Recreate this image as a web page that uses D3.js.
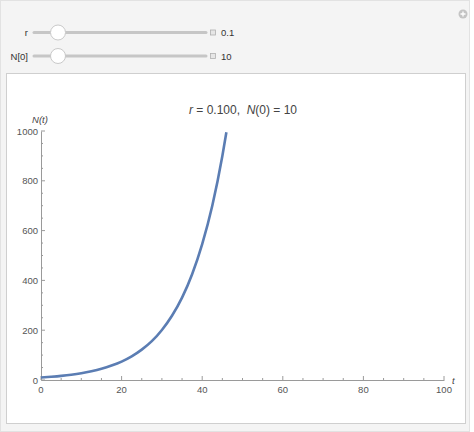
<!DOCTYPE html>
<html>
<head>
<meta charset="utf-8">
<script src="https://cdn.jsdelivr.net/npm/d3@7"></script>
<style>
  body { margin: 0; background: #fff; }
  text { font-family: "Liberation Sans", Arial, sans-serif; white-space: pre; }
</style>
</head>
<body>
<script>
// values
var tValues = [0, 2.5, 5, 7.5, 10, 12.5, 15, 17.5, 20, 22.5, 25, 27.5, 30, 32.5, 35, 37.5, 40, 42.5, 45, 46];
var nValues = [10, 13, 16.5, 21, 27, 35, 45, 58, 74, 95, 122, 156, 201, 258, 331, 425, 546, 700, 900, 995];
var xTicks = [0, 20, 40, 60, 80, 100];
var yTicks = [0, 200, 400, 600, 800, 1000];
var sliders = [{label: "r", value: "0.1"}, {label: "N[0]", value: "10"}];

var W = 474, H = 432;
var svg = d3.select("body").append("svg")
    .attr("width", W)
    .attr("height", H);

// outer panel
svg.append("rect")
    .attr("x", 0.5).attr("y", 0.5)
    .attr("width", 469).attr("height", 431)
    .attr("fill", "#f4f4f4")
    .attr("stroke", "#e2e2e2");

// plus icon top right
svg.append("circle").attr("cx", 463).attr("cy", 14).attr("r", 4.5).attr("fill", "#c4c4c4");
svg.append("path").attr("d", "M460.5,14H465.5M463,11.5V16.5").attr("stroke", "#fff").attr("stroke-width", 1.3);

// sliders
sliders.forEach(function(s, i) {
  var cy = 32.5 + i * 23.5;
  svg.append("text")
      .attr("x", 28).attr("y", cy + 3.5)
      .attr("text-anchor", "end")
      .attr("font-size", 9.5)
      .attr("fill", "#333")
      .text(s.label);
  svg.append("line")
      .attr("x1", 34).attr("x2", 206)
      .attr("y1", cy).attr("y2", cy)
      .attr("stroke", "#c6c6c6").attr("stroke-width", 3)
      .attr("stroke-linecap", "round");
  svg.append("circle")
      .attr("cx", 58).attr("cy", cy).attr("r", 7.5)
      .attr("fill", "#fff").attr("stroke", "#c9c9c9");
  svg.append("rect")
      .attr("x", 210.5).attr("y", cy - 2.5)
      .attr("width", 5).attr("height", 5)
      .attr("fill", "#e6e6e6").attr("stroke", "#b0b0b0").attr("stroke-width", 0.8);
  svg.append("text")
      .attr("x", 221).attr("y", cy + 3.5)
      .attr("font-size", 9.5)
      .attr("fill", "#333")
      .text(s.value);
});

// white plot panel
svg.append("rect")
    .attr("x", 6.5).attr("y", 73.5)
    .attr("width", 459).attr("height", 350)
    .attr("fill", "#fff")
    .attr("stroke", "#cfcfcf");

// scales
var x = d3.scaleLinear().domain([0, 100]).range([41, 444]);
var y = d3.scaleLinear().domain([0, 1000]).range([380, 131]);

var axisColor = "#9a9a9a";
var labelColor = "#555";

// x axis
var gx = svg.append("g").attr("transform", "translate(0,380)");
gx.call(d3.axisBottom(x).ticks(20).tickSize(0).tickFormat(""));
gx.select(".domain").attr("stroke", axisColor);
gx.selectAll(".tick line").remove();
d3.range(0, 101, 5).forEach(function(v) {
  var major = v % 20 === 0;
  gx.append("line")
      .attr("x1", x(v)).attr("x2", x(v))
      .attr("y1", 0).attr("y2", major ? -4 : -2)
      .attr("stroke", axisColor);
});
gx.selectAll(".lbl").data(xTicks).enter().append("text")
    .attr("x", function(d) { return x(d); })
    .attr("y", 13)
    .attr("text-anchor", "middle")
    .attr("font-size", 9.5)
    .attr("fill", labelColor)
    .text(function(d) { return d; });

// y axis
var gy = svg.append("g").attr("transform", "translate(41,0)");
gy.call(d3.axisLeft(y).ticks(5).tickSize(0).tickFormat(""));
gy.select(".domain").attr("stroke", axisColor);
gy.selectAll(".tick line").remove();
d3.range(0, 1001, 50).forEach(function(v) {
  var major = v % 200 === 0;
  gy.append("line")
      .attr("x1", 0).attr("x2", major ? 4 : 2)
      .attr("y1", y(v)).attr("y2", y(v))
      .attr("stroke", axisColor);
});
gy.selectAll(".lbl").data(yTicks).enter().append("text")
    .attr("x", -3)
    .attr("y", function(d) { return y(d) + 3.5; })
    .attr("text-anchor", "end")
    .attr("font-size", 9.5)
    .attr("fill", labelColor)
    .text(function(d) { return d; });

// axis labels
svg.append("text")
    .attr("x", 40).attr("y", 123)
    .attr("text-anchor", "middle")
    .attr("font-size", 9.5)
    .attr("font-style", "italic")
    .attr("fill", "#444")
    .text("N(t)");
svg.append("text")
    .attr("x", 452).attr("y", 384)
    .attr("font-size", 9.5)
    .attr("font-style", "italic")
    .attr("fill", "#444")
    .text("t");

// title
var tt = svg.append("text")
    .attr("x", 243).attr("y", 114)
    .attr("text-anchor", "middle")
    .attr("font-size", 12)
    .attr("fill", "#444");
tt.append("tspan").attr("font-style", "italic").text("r");
tt.append("tspan").text(" = 0.100,\u00a0\u00a0");
tt.append("tspan").attr("font-style", "italic").text("N");
tt.append("tspan").text("(0) = 10");

// curve
var data = tValues.map(function(t, i) { return {t: t, n: nValues[i]}; });
var line = d3.line()
    .x(function(d) { return x(d.t); })
    .y(function(d) { return y(d.n); })
    .curve(d3.curveMonotoneX);

svg.append("path")
    .datum(data)
    .attr("fill", "none")
    .attr("stroke", "#5b7db3")
    .attr("stroke-width", 2.6)
    .attr("d", line);
</script>
</body>
</html>
